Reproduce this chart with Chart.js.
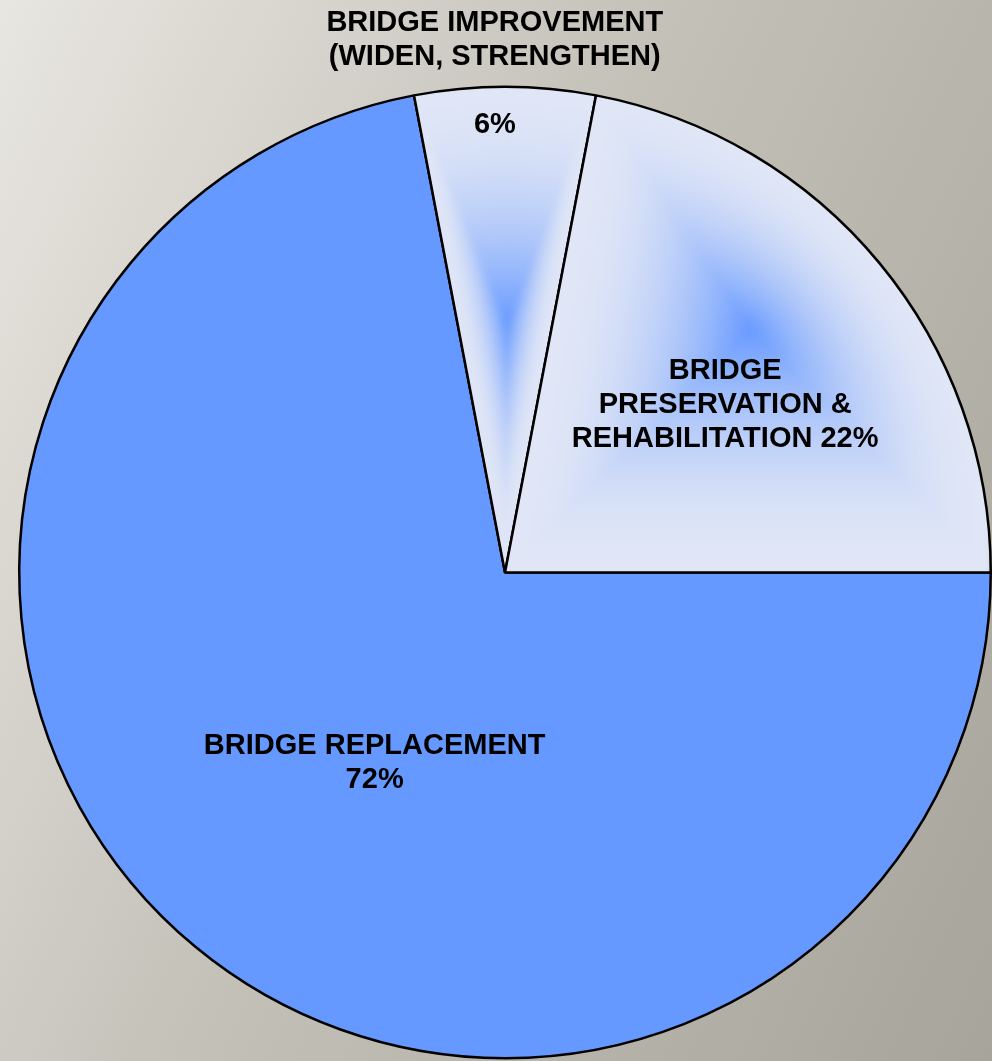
<!DOCTYPE html>
<html>
<head>
<meta charset="utf-8">
<script src="https://cdn.jsdelivr.net/npm/chart.js@4/dist/chart.umd.min.js"></script>
<style>
html, body { margin: 0; padding: 0; }
body {
  width: 992px; height: 1061px; overflow: hidden;
  background: linear-gradient(115deg, #e8e6e0 0%, #c4c1b9 45%, #a7a49c 100%);
}
#wrap { position: relative; width: 992px; height: 1061px; }
</style>
</head>
<body>
<div id="wrap"><canvas id="pie"></canvas></div>
<script>
// Share of bridge program by work type (percent)
const categories = ['BRIDGE REPLACEMENT', 'BRIDGE IMPROVEMENT (WIDEN, STRENGTHEN)', 'BRIDGE PRESERVATION & REHABILITATION'];
const shares = [72, 6, 22];
const nameLines = [
  ['BRIDGE REPLACEMENT'],
  ['BRIDGE IMPROVEMENT', '(WIDEN, STRENGTHEN)'],
  ['BRIDGE', 'PRESERVATION &', 'REHABILITATION']
];

// label blocks per slice: angle in degrees clockwise from 3 o'clock, r as fraction of radius
const labelPlace = [
  [{ text: 'namePct', angle: 124.4, r: 0.475 }],
  [{ text: 'name', angle: 268.9, r: 1.097 }, { text: 'pct', angle: 268.7, r: 0.922 }],
  [{ text: 'nameInline', angle: 322.8, r: 0.569 }]
];

// path-gradient focus for the two light slices
const glow = [
  null,
  { angle: 270.5, r: 0.512 },
  { angle: 315.3, r: 0.708 }
];
const edgeRGB = [224, 230, 246];
const focusRGB = [102, 153, 255];

const patterns = {};

function mix(t) {
  return 'rgb(' + edgeRGB.map((c, k) => Math.round(c + (focusRGB[k] - c) * t)).join(',') + ')';
}

function sliceFill(context) {
  const i = context.dataIndex;
  if (i === 0) return '#6699ff';
  const chart = context.chart;
  const area = chart.chartArea;
  if (!area || !glow[i]) return mix(0);
  const key = i + ':' + chart.width + 'x' + chart.height;
  if (patterns[key]) return patterns[key];
  const cx = (area.left + area.right) / 2;
  const cy = (area.top + area.bottom) / 2;
  const R = Math.min(area.right - area.left, area.bottom - area.top) / 2;
  const total = shares.reduce((s, v) => s + v, 0);
  const before = shares.slice(0, i).reduce((s, v) => s + v, 0);
  const a0 = before / total * Math.PI * 2;
  const a1 = (before + shares[i]) / total * Math.PI * 2;
  const g = glow[i];
  const ga = g.angle * Math.PI / 180;
  const gx = cx + Math.cos(ga) * R * g.r;
  const gy = cy + Math.sin(ga) * R * g.r;

  const off = document.createElement('canvas');
  off.width = chart.width;
  off.height = chart.height;
  const o = off.getContext('2d');
  o.fillStyle = mix(0);
  o.fillRect(0, 0, off.width, off.height);
  // nested copies of the wedge shrinking toward the focus point
  const steps = 90;
  for (let k = 0; k < steps; k++) {
    const s = 1 - k / steps;
    const t = Math.pow(1 - s, 2);
    o.save();
    o.translate(gx, gy);
    o.scale(s, s);
    o.translate(-gx, -gy);
    o.beginPath();
    o.moveTo(cx, cy);
    o.arc(cx, cy, R + 4, a0, a1);
    o.closePath();
    o.fillStyle = mix(t);
    o.fill();
    o.restore();
  }
  const blurred = document.createElement('canvas');
  blurred.width = off.width;
  blurred.height = off.height;
  const b = blurred.getContext('2d');
  b.filter = 'blur(3px)';
  b.drawImage(off, 0, 0);
  patterns[key] = chart.ctx.createPattern(blurred, 'no-repeat');
  return patterns[key];
}

const sliceLabels = {
  id: 'sliceLabels',
  afterDatasetsDraw(chart) {
    const ctx = chart.ctx;
    const arcs = chart.getDatasetMeta(0).data;
    ctx.save();
    ctx.font = 'bold 29px "Liberation Sans", Arial, sans-serif';
    ctx.fillStyle = '#000';
    ctx.textAlign = 'center';
    ctx.textBaseline = 'middle';
    arcs.forEach((arc, i) => {
      const pct = shares[i] + '%';
      labelPlace[i].forEach(b => {
        let lines;
        if (b.text === 'name') lines = nameLines[i].slice();
        else if (b.text === 'pct') lines = [pct];
        else if (b.text === 'nameInline') {
          lines = nameLines[i].slice();
          lines[lines.length - 1] += ' ' + pct;
        } else lines = nameLines[i].concat([pct]);
        const a = b.angle * Math.PI / 180;
        const x = arc.x + Math.cos(a) * arc.outerRadius * b.r;
        const y = arc.y + Math.sin(a) * arc.outerRadius * b.r;
        const lh = 34;
        lines.forEach((ln, k) => ctx.fillText(ln, x, y + (k - (lines.length - 1) / 2) * lh));
      });
    });
    ctx.restore();
  }
};

new Chart(document.getElementById('pie'), {
  type: 'pie',
  data: {
    labels: categories,
    datasets: [{
      data: shares,
      backgroundColor: sliceFill,
      borderColor: '#000',
      borderWidth: 2.5,
      hoverOffset: 0
    }]
  },
  options: {
    responsive: true,
    maintainAspectRatio: false,
    devicePixelRatio: 1,
    animation: false,
    rotation: 90,
    layout: { padding: { top: 84, left: 18, right: 0, bottom: 0 } },
    plugins: {
      legend: { display: false },
      tooltip: { enabled: false }
    }
  },
  plugins: [sliceLabels]
});
</script>
</body>
</html>
